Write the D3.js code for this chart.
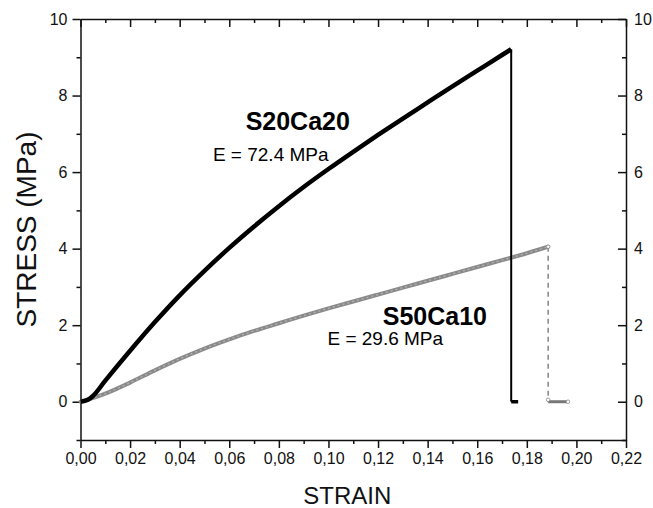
<!DOCTYPE html>
<html><head><meta charset="utf-8">
<script src="https://cdn.jsdelivr.net/npm/d3@7"></script>
<style>
body{margin:0;background:#fff;}
svg{display:block;font-family:"Liberation Sans",Arial,sans-serif;}
</style></head>
<body><svg id="c" width="653" height="508"></svg>
<script>
// S20Ca20 curve
const strainS20 = [0,0.003,0.005,0.01,0.02,0.03,0.04,0.05,0.06,0.07,0.08,0.09,0.10,0.11,0.12,0.13,0.14,0.15,0.16,0.17,0.1737];
const stressS20 = [0,0.05,0.15,0.55,1.33,2.08,2.78,3.42,4.02,4.58,5.11,5.61,6.08,6.53,6.97,7.40,7.82,8.24,8.65,9.06,9.21];
const breakS20 = {strain:[0.1737,0.1737,0.1765], stress:[9.21,0,0]};
// S50Ca10 curve
const strainS50 = [0,0.01,0.02,0.03,0.04,0.05,0.06,0.07,0.08,0.09,0.10,0.11,0.12,0.13,0.14,0.15,0.16,0.17,0.18,0.1886];
const stressS50 = [0,0.21,0.50,0.82,1.12,1.39,1.63,1.85,2.05,2.25,2.44,2.62,2.80,2.98,3.16,3.34,3.52,3.70,3.88,4.05];
const dropS50 = {strain:[0.1886,0.1886], stress:[4.05,0]};
const tailS50 = {strain:[0.1886,0.1966], stress:[0,0]};
const xMajor = [0,0.02,0.04,0.06,0.08,0.10,0.12,0.14,0.16,0.18,0.20,0.22];
const xMinor = [0.01,0.03,0.05,0.07,0.09,0.11,0.13,0.15,0.17,0.19,0.21];
const yMajor = [0,2,4,6,8,10];
const yMinor = [-1,1,3,5,7,9];
const labels = [
  {text:"S20Ca20", strain:0.0666, stress:7.1, bold:true},
  {text:"E = 72.4 MPa", strain:0.0534, stress:6.3, bold:false},
  {text:"S50Ca10", strain:0.1219, stress:2.0, bold:true},
  {text:"E = 29.6 MPa", strain:0.0996, stress:1.48, bold:false}
];

const svg = d3.select("#c");
const x = d3.scaleLinear().domain([0,0.22]).range([80.5,626]);
const y = d3.scaleLinear().domain([-1,10]).range([440,19]);
const fmt = v => d3.format(".2f")(v).replace(".",",");

function axisDraw(gen, transform){
  const g = svg.append("g").attr("transform",transform).call(gen);
  g.selectAll("path,line").attr("stroke","#111").attr("stroke-width",1.5);
  g.selectAll("text").attr("font-size",16).attr("fill","#111").attr("font-family","Liberation Sans, Arial, sans-serif");
  return g;
}
// bottom
axisDraw(d3.axisBottom(x).tickValues(xMajor).tickFormat(fmt).tickSizeInner(8).tickSizeOuter(0).tickPadding(5),`translate(0,${y(-1)})`);
axisDraw(d3.axisBottom(x).tickValues(xMinor).tickFormat("").tickSizeInner(4).tickSizeOuter(0),`translate(0,${y(-1)})`).select("path").remove();
// top (inward)
axisDraw(d3.axisTop(x).tickValues(xMajor).tickFormat("").tickSizeInner(-8).tickSizeOuter(0),`translate(0,${y(10)})`);
axisDraw(d3.axisTop(x).tickValues(xMinor).tickFormat("").tickSizeInner(-4).tickSizeOuter(0),`translate(0,${y(10)})`).select("path").remove();
// left
axisDraw(d3.axisLeft(y).tickValues(yMajor).tickFormat(d3.format("d")).tickSizeInner(8).tickSizeOuter(0).tickPadding(5),`translate(${x(0)},0)`);
axisDraw(d3.axisLeft(y).tickValues(yMinor).tickFormat("").tickSizeInner(4).tickSizeOuter(0),`translate(${x(0)},0)`).select("path").remove();
// right (inward ticks, labels outside)
axisDraw(d3.axisRight(y).tickValues(yMajor).tickFormat(d3.format("d")).tickSizeInner(-8).tickSizeOuter(0).tickPadding(8),`translate(${x(0.22)},0)`);
axisDraw(d3.axisRight(y).tickValues(yMinor).tickFormat("").tickSizeInner(-4).tickSizeOuter(0),`translate(${x(0.22)},0)`).select("path").remove();

const line = d3.line().x(d=>x(d[0])).y(d=>y(d[1])).curve(d3.curveMonotoneX);
const lin = d3.line().x(d=>x(d[0])).y(d=>y(d[1]));
const zip = (a,b)=>a.map((v,i)=>[v,b[i]]);

// S50Ca10 (gray)
svg.append("path").attr("d",line(zip(strainS50,stressS50))).attr("fill","none")
  .attr("stroke","#8a8a8a").attr("stroke-width",4).attr("stroke-linecap","round");
svg.append("path").attr("d",line(zip(strainS50,stressS50))).attr("fill","none")
  .attr("stroke","#b5b5b5").attr("stroke-width",1.2).attr("stroke-dasharray","2,3");
svg.append("path").attr("d",lin(zip(dropS50.strain,dropS50.stress))).attr("fill","none")
  .attr("stroke","#666").attr("stroke-width",1.2).attr("stroke-dasharray","5,4");
svg.append("path").attr("d",lin(zip(tailS50.strain,tailS50.stress))).attr("fill","none")
  .attr("stroke","#777").attr("stroke-width",3);
svg.selectAll("circle.m").data([[dropS50.strain[0],dropS50.stress[0]],[tailS50.strain[0],0.05],[tailS50.strain[1],0]])
  .enter().append("circle").attr("cx",d=>x(d[0])).attr("cy",d=>y(d[1])).attr("r",1.8)
  .attr("fill","#fff").attr("stroke","#888").attr("stroke-width",0.8);

// S20Ca20 (black)
svg.append("path").attr("d",line(zip(strainS20,stressS20))).attr("fill","none")
  .attr("stroke","#000").attr("stroke-width",4.5).attr("stroke-linejoin","round");
svg.append("path").attr("d",lin(zip(breakS20.strain.slice(0,2),breakS20.stress.slice(0,2)))).attr("fill","none")
  .attr("stroke","#000").attr("stroke-width",2);
svg.append("path").attr("d",lin(zip(breakS20.strain.slice(1),breakS20.stress.slice(1)))).attr("fill","none")
  .attr("stroke","#000").attr("stroke-width",3.5);

// annotations
labels.forEach(l=>{
  svg.append("text").attr("x",x(l.strain)).attr("y",y(l.stress)).text(l.text)
    .attr("font-size",l.bold?25:19).attr("font-weight",l.bold?"bold":"normal").attr("fill","#000");
});

// axis titles
svg.append("text").attr("x",(x(0)+x(0.22))/2-6).attr("y",504).attr("text-anchor","middle")
  .attr("font-size",24).attr("fill","#111").text("STRAIN");
svg.append("text").attr("transform",`translate(36,${(y(10)+y(-1))/2}) rotate(-90)`).attr("text-anchor","middle")
  .attr("font-size",28).attr("fill","#111").text("STRESS (MPa)");
</script></body></html>
